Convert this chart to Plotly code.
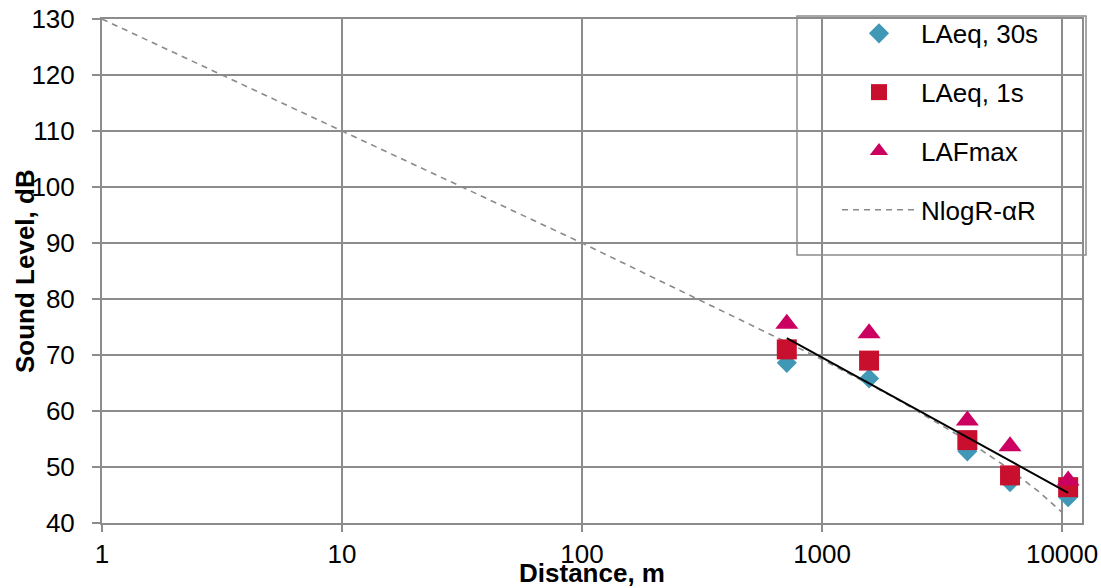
import plotly.graph_objects as go

# ---- data ----
distance = [713, 1570, 4030, 6070, 10600]
laeq_30s = [68.6, 65.8, 52.8, 47.3, 44.6]
laeq_1s = [71.0, 69.0, 54.8, 48.5, 46.4]
lafmax = [75.6, 73.9, 58.3, 53.7, 47.6]

model_r = [1, 10, 100, 1000, 2000, 4000, 6000, 8000, 10000]
model_db = [130.0, 110.0, 90.0, 69.2, 62.4, 54.8, 49.7, 45.6, 41.9]

trend_r = [713, 10600]
trend_db = [73.0, 45.4]

x_tickvals = [1, 10, 100, 1000, 10000]
x_ticktext = ["1", "10", "100", "1000", "10000"]
y_tickvals = [40, 50, 60, 70, 80, 90, 100, 110, 120, 130]

FONT = "Liberation Sans, Arial, sans-serif"
GRID = "#8c8c8c"
FS = 26

fig = go.Figure()

fig.add_trace(go.Scatter(
    x=model_r, y=model_db, mode="lines", name="NlogR-αR",
    line=dict(color="#8a8a8a", width=1.6, dash="6px,5px"),
    legendgroup="d", legendrank=4))
fig.add_trace(go.Scatter(
    x=distance, y=laeq_30s, mode="markers", name="LAeq, 30s",
    marker=dict(symbol="diamond", size=15.5, color="#4198B6"),
    legendgroup="a", legendrank=1))
fig.add_trace(go.Scatter(
    x=distance, y=laeq_1s, mode="markers", name="LAeq, 1s",
    marker=dict(symbol="square", size=20, color="#C8102E"),
    legendgroup="b", legendrank=2))
fig.add_trace(go.Scatter(
    x=distance, y=lafmax, mode="markers", name="LAFmax",
    marker=dict(symbol="triangle-up", size=20, color="#CC0060"),
    legendgroup="c", legendrank=3))
fig.add_trace(go.Scatter(
    x=trend_r, y=trend_db, mode="lines", showlegend=False,
    line=dict(color="black", width=2)))

fig.update_layout(
    width=1101, height=588,
    margin=dict(l=102, r=19, t=19, b=65, autoexpand=False),
    paper_bgcolor="white", plot_bgcolor="white",
    font=dict(family=FONT, size=FS, color="black"),
    showlegend=True,
    legend=dict(
        x=0.750, y=1.018, xanchor="left", yanchor="top",
        bgcolor="rgba(0,0,0,0)", borderwidth=0,
        itemwidth=74, tracegroupgap=22,
        font=dict(family=FONT, size=FS, color="black"),
    ),
    shapes=[dict(
        type="rect", xref="paper", yref="paper",
        x0=(797 - 102) / 980, x1=(1086 - 102) / 980,
        y0=(523 - 255) / 504, y1=(523 - 16) / 504,
        line=dict(color="#8c8c8c", width=1.5),
        fillcolor="white", layer="below")],
    annotations=[dict(
        text="<b>Sound Level, dB</b>", xref="paper", yref="paper",
        x=(25 - 102) / 980, y=0.5, xanchor="center", yanchor="middle",
        textangle=-90, showarrow=False,
        font=dict(family=FONT, size=FS, color="black"))],
)

fig.update_xaxes(
    type="log", range=[0, 4.083], automargin=False,
    tickvals=x_tickvals, ticktext=x_ticktext,
    showgrid=True, gridcolor=GRID, gridwidth=2,
    showline=True, linecolor=GRID, linewidth=2, mirror=True,
    ticks="outside", ticklen=7, tickwidth=2, tickcolor=GRID,
    tickfont=dict(family=FONT, size=FS),
    zeroline=False,
    title=dict(text="Distance, m", standoff=0,
               font=dict(family=FONT, size=FS, weight="bold")),
)
fig.update_yaxes(
    range=[40, 130], tickvals=y_tickvals, automargin=False,
    showgrid=True, gridcolor=GRID, gridwidth=2,
    showline=True, linecolor=GRID, linewidth=2, mirror=True,
    ticks="outside", ticklen=8, tickwidth=2, tickcolor=GRID,
    tickfont=dict(family=FONT, size=FS),
    ticklabelstandoff=12,
    zeroline=False,
)

fig.write_html(
    "out.html",
    config={"displayModeBar": False},
    post_script="document.body.style.margin='0';document.body.style.overflow='hidden';",
)
